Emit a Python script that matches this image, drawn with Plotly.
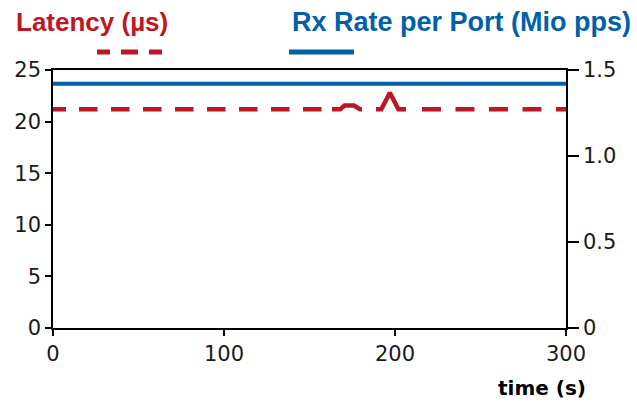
import plotly.graph_objects as go

# Data
time_lat = [0, 168, 170.5, 176, 179.5, 192, 197, 202, 300]
latency = [21.2, 21.2, 21.55, 21.55, 21.2, 21.2, 22.8, 21.2, 21.2]
time_rate = [0, 300]
rx_rate = [1.42, 1.42]
x_ticks = [0, 100, 200, 300]
y_ticks = [0, 5, 10, 15, 20, 25]
y2_ticks = [0, 0.5, 1.0, 1.5]
y2_labels = ["0", "0.5", "1.0", "1.5"]

RED = "#BE1622"
BLUE = "#0060A8"
TICKFONT = dict(family="DejaVu Sans", size=21, color="#1a1a1a")

# dash pattern (style only) imitating the reference's dash rhythm
dash_parts = [13, 13] + [18.5, 13.5] * 7 + [18.5, 10.5, 32.3, 14, 50.1, 16] + [19, 14.5] * 6
LAT_DASH = ",".join(f"{v}px" for v in dash_parts)

fig = go.Figure()
fig.add_trace(go.Scatter(x=time_rate, y=rx_rate, yaxis="y2", mode="lines",
                         line=dict(color=BLUE, width=4), showlegend=False))
fig.add_trace(go.Scatter(x=time_lat, y=latency, yaxis="y", mode="lines",
                         line=dict(color=RED, width=4.5, dash=LAT_DASH),
                         showlegend=False))

fig.update_layout(
    width=637, height=403,
    margin=dict(l=53, r=71, t=70, b=75),
    paper_bgcolor="white", plot_bgcolor="white",
    xaxis=dict(range=[0, 300], tickvals=x_ticks, ticks="outside", ticklen=6,
               tickwidth=1.5, tickcolor="black", showline=True, linecolor="black",
               linewidth=1.5, mirror=True, showgrid=False, zeroline=False,
               tickfont=TICKFONT),
    yaxis=dict(range=[0, 25], tickvals=y_ticks, ticks="outside", ticklen=6,
               tickwidth=1.5, tickcolor="black", showline=True, linecolor="black",
               linewidth=1.5, showgrid=False, zeroline=False, tickfont=TICKFONT),
    yaxis2=dict(range=[0, 1.5], tickvals=y2_ticks, ticktext=y2_labels,
                overlaying="y", side="right", ticks="outside", ticklen=11,
                tickwidth=1.5, tickcolor="black", showline=True, linecolor="black",
                linewidth=1.5, showgrid=False, zeroline=False, tickfont=TICKFONT),
)

fig.add_annotation(text="<b>Latency (µs)</b>", xref="paper", yref="paper",
                   x=-39/513, y=1 + 48/258, xanchor="left", yanchor="middle",
                   showarrow=False,
                   font=dict(family="Liberation Sans", size=26, color=RED))
fig.add_annotation(text="<b>Rx Rate per Port (Mio pps)</b>", xref="paper", yref="paper",
                   x=(290 - 53)/513, y=1 + 48/258, xanchor="left", yanchor="middle",
                   showarrow=False,
                   font=dict(family="Liberation Sans", size=27, color=BLUE))
fig.add_annotation(text="<b>time (s)</b>", xref="paper", yref="paper",
                   x=(588 - 53)/513, y=-(388 - 328)/258, xanchor="right", yanchor="middle",
                   showarrow=False,
                   font=dict(family="DejaVu Sans", size=20, color="black"))

# legend samples
fig.add_shape(type="line", xref="paper", yref="paper",
              x0=(97 - 53)/513, x1=(162 - 53)/513, y0=1 + 18/258, y1=1 + 18/258,
              line=dict(color=RED, width=5, dash="13px,11px,17px,11px,13px,11px"))
fig.add_shape(type="line", xref="paper", yref="paper",
              x0=(289 - 53)/513, x1=(354 - 53)/513, y0=1 + 18/258, y1=1 + 18/258,
              line=dict(color=BLUE, width=5))

fig.write_html("out.html", config={"displayModeBar": False},
               post_script="document.body.style.margin='0';"
                           "document.documentElement.style.overflow='hidden';")
